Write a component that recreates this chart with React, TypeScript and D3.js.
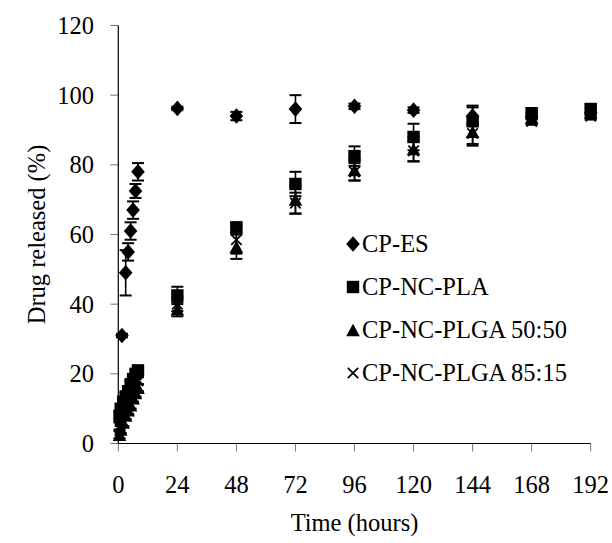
import React from "react";
import * as d3 from "d3";

// ---- data ----
const esTime = [1.5, 3, 4, 5, 6, 7, 8, 24, 48, 72, 96, 120, 144, 168, 192];
const esValue = [31, 49, 55, 61, 67, 72.5, 78, 96.2, 94, 96, 96.8, 95.7, 94, 94, 95];
const esError = [0.5, 6.5, 2.5, 2.5, 2.5, 2, 2.5, 0.5, 1.2, 4, 0.8, 0.8, 2.5, 1, 1];

const ncTime = [0.5, 1, 2, 3, 4, 5, 6, 7, 8, 24, 48, 72, 96, 120, 144, 168, 192];
const plaValue = [8, 10, 12, 13.5, 15, 17, 18.5, 20, 21, 42.5, 62, 74.5, 82.5, 88, 92.5, 94.8, 96];
const plaError = [1, 1, 1, 1, 1, 1, 1, 1, 1, 2.5, 1.5, 3.5, 2.8, 3.8, 4.5, 1.5, 1.5];
const plga5050Value = [2.5, 4, 6, 8, 9.5, 11, 13, 14.5, 16, 38.5, 56.5, 70, 78.5, 84.5, 89.5, 93.5, 95];
const plga5050Error = [1, 1, 1, 1, 1, 1, 1, 1, 1, 2, 3.5, 4, 3, 3.5, 4, 1.5, 1.5];
const plga8515Value = [5, 6.5, 8.5, 10, 11.5, 13.5, 15, 16.5, 18, 40, 58.5, 69, 78, 84, 89, 92.5, 94];
const plga8515Error = [1, 1, 1, 1, 1, 1, 1, 1, 1, 2, 4, 3, 2.5, 3, 3, 1, 1];

const seriesNames = ["CP-ES", "CP-NC-PLA", "CP-NC-PLGA 50:50", "CP-NC-PLGA 85:15"];
const xTicks = [0, 24, 48, 72, 96, 120, 144, 168, 192];
const yTicks = [0, 20, 40, 60, 80, 100, 120];
const xLabel = "Time (hours)";
const yLabel = "Drug released (%)";

type Shape = "diamond" | "square" | "triangle" | "cross";
const series: { name: string; shape: Shape; t: number[]; v: number[]; e: number[] }[] = [
  { name: seriesNames[0], shape: "diamond", t: esTime, v: esValue, e: esError },
  { name: seriesNames[1], shape: "square", t: ncTime, v: plaValue, e: plaError },
  { name: seriesNames[2], shape: "triangle", t: ncTime, v: plga5050Value, e: plga5050Error },
  { name: seriesNames[3], shape: "cross", t: ncTime, v: plga8515Value, e: plga8515Error },
];

const W = 612;
const H = 543;
const FONT = "Liberation Serif, Times New Roman, Times, DejaVu Serif, serif";
const textStyle = { fontFamily: FONT, fontSize: "24.5px" };

const x = d3.scaleLinear().domain([0, 192]).range([118.3, 590.7]);
const y = d3.scaleLinear().domain([0, 120]).range([443.5, 25.5]);

function Marker({ shape, cx, cy }: { shape: Shape; cx: number; cy: number }) {
  if (shape === "diamond") {
    const w = 6.8, h = 7.8;
    return <path d={`M${cx},${cy - h}L${cx + w},${cy}L${cx},${cy + h}L${cx - w},${cy}Z`} fill="#000" />;
  }
  if (shape === "square") {
    const s = 6.2;
    return <rect x={cx - s} y={cy - s} width={2 * s} height={2 * s} fill="#000" />;
  }
  if (shape === "triangle") {
    const w = 6.8, h = 6.2;
    return <path d={`M${cx},${cy - h}L${cx + w},${cy + h}L${cx - w},${cy + h}Z`} fill="#000" />;
  }
  const s = 5.2;
  return (
    <path
      d={`M${cx - s},${cy - s}L${cx + s},${cy + s}M${cx - s},${cy + s}L${cx + s},${cy - s}`}
      stroke="#000"
      strokeWidth={1.8}
      fill="none"
    />
  );
}

export default function App() {
  const capW = 6;
  return (
    <svg
      width={W}
      height={H}
      style={{ position: "absolute", left: 0, top: 0, background: "#fff" }}
    >
      <rect x={0} y={0} width={W} height={H} fill="#fff" />
      {/* axes */}
      <g>
        {yTicks.map((t) => (
          <g key={"y" + t}>
            <line x1={x(0) - 8} x2={x(0)} y1={y(t)} y2={y(t)} stroke="#777" strokeWidth={1} />
            <text x={94} y={y(t)} dy="0.35em" textAnchor="end" style={textStyle} fill="#000">
              {t}
            </text>
          </g>
        ))}
        {xTicks.map((t) => (
          <g key={"x" + t}>
            <line x1={x(t)} x2={x(t)} y1={y(0)} y2={y(0) + 8} stroke="#777" strokeWidth={1} />
            <text x={x(t)} y={493} textAnchor="middle" style={textStyle} fill="#000">
              {t}
            </text>
          </g>
        ))}
        <line x1={x(0)} x2={x(0)} y1={y(120)} y2={y(0)} stroke="#000" strokeWidth={1.2} />
        <line x1={x(0)} x2={x(192)} y1={y(0)} y2={y(0)} stroke="#000" strokeWidth={1.2} />
      </g>
      <text x={(x(0) + x(192)) / 2} y={531} textAnchor="middle" style={textStyle} fill="#000">
        {xLabel}
      </text>
      <text
        transform={`translate(36,${(y(0) + y(120)) / 2}) rotate(-90)`}
        textAnchor="middle"
        dy="0.35em"
        style={textStyle}
        fill="#000"
      >
        {yLabel}
      </text>

      {/* error bars */}
      {series.map((s, si) => (
        <g key={"e" + si}>
          {s.t.map((t, i) => {
            const cx = x(t);
            const y1 = y(s.v[i] + s.e[i]);
            const y2 = y(s.v[i] - s.e[i]);
            return (
              <g key={i} stroke="#000" strokeWidth={1.6}>
                <line x1={cx} x2={cx} y1={y1} y2={y2} />
                <line x1={cx - capW} x2={cx + capW} y1={y1} y2={y1} strokeWidth={2} />
                <line x1={cx - capW} x2={cx + capW} y1={y2} y2={y2} strokeWidth={2} />
              </g>
            );
          })}
        </g>
      ))}
      {/* markers */}
      {series.map((s, si) => (
        <g key={"m" + si}>
          {s.t.map((t, i) => (
            <Marker key={i} shape={s.shape} cx={x(t)} cy={y(s.v[i])} />
          ))}
        </g>
      ))}

      {/* legend */}
      {series.map((s, i) => {
        const by = 252 + i * 43;
        return (
          <g key={"l" + i}>
            <Marker shape={s.shape} cx={353} cy={by - 8} />
            <text x={362} y={by} style={textStyle} fill="#000">
              {s.name}
            </text>
          </g>
        );
      })}
    </svg>
  );
}
